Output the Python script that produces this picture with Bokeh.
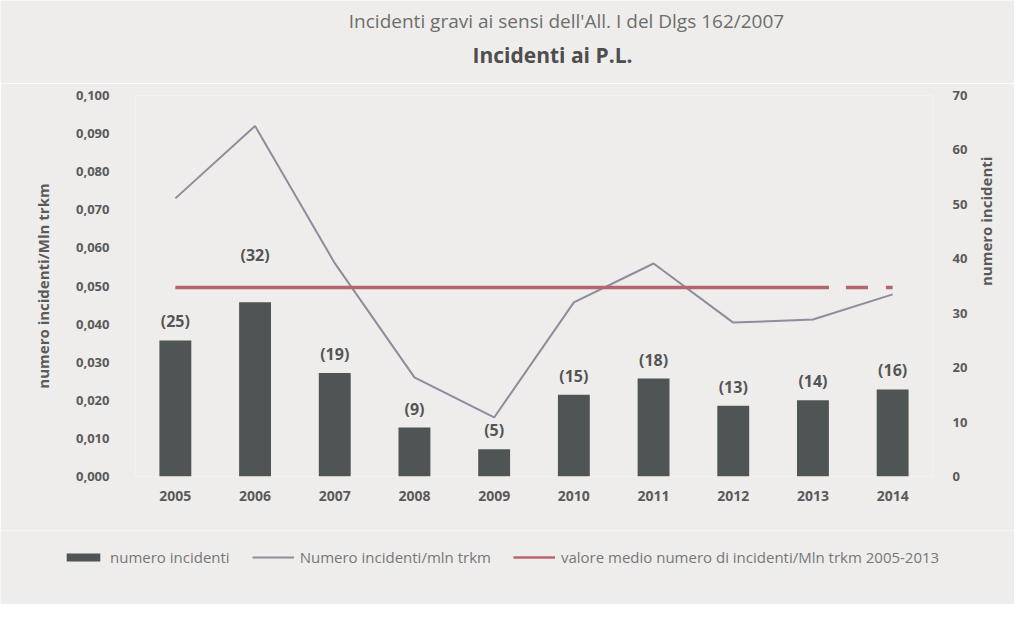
import math
from bokeh.plotting import figure
from bokeh.layouts import column
from bokeh.models import (Range1d, LinearAxis, FixedTicker, CustomJSTickFormatter,
                          Legend, LegendItem, Label, ColumnDataSource, FactorRange,
                          CDSView, IndexFilter)
from bokeh.core.properties import value
from bokeh.embed import file_html
from bokeh.resources import INLINE

# ---- data ----
years = ["2005", "2006", "2007", "2008", "2009", "2010", "2011", "2012", "2013", "2014"]
incidents = [25, 32, 19, 9, 5, 15, 18, 13, 14, 16]
rate = [0.073, 0.092, 0.056, 0.026, 0.0155, 0.0457, 0.0559, 0.0404, 0.0412, 0.0478]
mean_rate = 0.0496
left_ticks = [0.0, 0.01, 0.02, 0.03, 0.04, 0.05, 0.06, 0.07, 0.08, 0.09, 0.1]
left_tick_labels = ["0,000", "0,010", "0,020", "0,030", "0,040", "0,050",
                    "0,060", "0,070", "0,080", "0,090", "0,100"]
right_ticks = [0, 10, 20, 30, 40, 50, 60, 70]
title_1 = "Incidenti gravi ai sensi dell'All. I del Dlgs 162/2007"
title_2 = "Incidenti ai P.L."
left_label = "numero incidenti/Mln trkm"
right_label = "numero incidenti"
legend_labels = ["numero incidenti", "Numero incidenti/mln trkm",
                 "valore medio numero di incidenti/Mln trkm 2005-2013"]

FONT = "Open Sans"
BG = "#eeedeb"
TXT = "#5a5a5a"
BAR_C = "#4f5454"
LINE_C = "#8f8c9b"
MEAN_C = "#b8646e"
W = 1014
FRAME_L = 135
TOP_H = 83


def bare(fig):
    fig.background_fill_color = BG
    fig.border_fill_color = BG
    fig.outline_line_color = None
    fig.grid.grid_line_color = None


def free_frame(fig):
    # let this strip use its whole canvas as frame (no alignment with the chart)
    try:
        fig.frame_align = False
        return 0
    except AttributeError:
        fig.min_border_left = FRAME_L
        fig.min_border_right = 82
        return FRAME_L


src = ColumnDataSource(dict(year=years, count=incidents, rate=rate,
                            lab=["(%d)" % c for c in incidents]))
n_solid = len(years) - 1

# ---------- title strip ----------
tf = figure(width=W, height=TOP_H, x_range=Range1d(0, 1), y_range=Range1d(0, 1),
            x_axis_type=None, y_axis_type=None, output_backend="svg",
            toolbar_location=None, min_border=0)
bare(tf)
dx = free_frame(tf)
tf.add_layout(Label(x=566 - dx, y=TOP_H - 20, x_units="screen", y_units="screen",
                    text=title_1, text_align="center", text_baseline="middle",
                    text_font=FONT, text_font_size="19px", text_color="#6d6d6d"))
tf.add_layout(Label(x=552 - dx, y=TOP_H - 54, x_units="screen", y_units="screen",
                    text=title_2, text_align="center", text_baseline="middle",
                    text_font=FONT, text_font_style="bold", text_font_size="21px",
                    text_color="#4e4e4e"))

# ---------- main chart ----------
p = figure(width=W, height=447, x_range=FactorRange(*years), y_range=Range1d(0, 0.1),
           output_backend="svg", toolbar_location=None,
           min_border_left=FRAME_L, min_border_right=82, min_border_top=12, min_border_bottom=54)
p.extra_y_ranges = {"count": Range1d(0, 70)}
bare(p)

p.vbar(x="year", top="count", width=0.4, source=src, y_range_name="count",
       fill_color=BAR_C, line_color=None)

others = [i for i in range(len(years)) if i != 1]
txt_kw = dict(x="year", y="count", text="lab", source=src, y_range_name="count",
              text_align="center", text_baseline="bottom",
              text_font=value(FONT), text_font_style="bold", text_font_size="16px",
              text_color="#555555")
p.text(view=CDSView(filter=IndexFilter(others)), y_offset=-8, **txt_kw)
p.text(view=CDSView(filter=IndexFilter([1])), y_offset=-36, **txt_kw)

p.line(x="year", y="rate", source=src, line_color=LINE_C, line_width=2)
p.line(x=years[:n_solid], y=[mean_rate] * n_solid, line_color=MEAN_C, line_width=3.5)
p.line(x=years[n_solid - 1:], y=[mean_rate] * 2, line_color=MEAN_C, line_width=3.5,
       line_dash="16 17 22 18")

p.yaxis.ticker = FixedTicker(ticks=left_ticks)
p.yaxis.formatter = CustomJSTickFormatter(
    args=dict(vals=left_ticks, labels=left_tick_labels),
    code="const i = vals.findIndex(t => Math.abs(t - tick) < 1e-9);"
         "return i >= 0 ? labels[i] : tick.toFixed(3).replace('.', ',');")
p.yaxis.axis_label = left_label
p.yaxis.major_label_standoff = 26
p.yaxis.axis_label_standoff = 20

raxis = LinearAxis(y_range_name="count", ticker=FixedTicker(ticks=right_ticks),
                   axis_label=right_label)
p.add_layout(raxis, "right")
raxis.major_label_standoff = 20
raxis.axis_label_standoff = 16
raxis.axis_label_orientation = math.pi / 2

p.xaxis.major_label_standoff = 14

for ax in [p.xaxis[0], p.yaxis[0], raxis]:
    ax.axis_line_color = None
    ax.major_tick_line_color = None
    ax.minor_tick_line_color = None
    ax.major_tick_out = 0
    ax.major_label_text_font = FONT
    ax.major_label_text_font_style = "bold"
    ax.major_label_text_color = TXT
    ax.major_label_text_font_size = "13px"
    ax.axis_label_text_font = FONT
    ax.axis_label_text_font_style = "bold"
    ax.axis_label_text_color = TXT
    ax.axis_label_text_font_size = "15px"
p.xaxis.major_label_text_font_size = "14px"
raxis.axis_label_text_align = "center"
raxis.axis_label_text_baseline = "middle"

# ---------- legend strip (same series, drawn outside its visible range) ----------
lf = figure(width=W, height=74, x_range=p.x_range, y_range=Range1d(1000, 1001),
            x_axis_type=None, y_axis_type=None, output_backend="svg",
            toolbar_location=None, min_border=0)
bare(lf)
ldx = free_frame(lf)
lb = lf.vbar(x="year", top="count", width=0.4, source=src, fill_color=BAR_C, line_color=None)
ll = lf.line(x="year", y="rate", source=src, line_color=LINE_C, line_width=2)
lm = lf.line(x=years[:n_solid], y=[mean_rate] * n_solid, line_color=MEAN_C, line_width=2.5)

legend = Legend(items=[LegendItem(label=legend_labels[0], renderers=[lb]),
                       LegendItem(label=legend_labels[1], renderers=[ll]),
                       LegendItem(label=legend_labels[2], renderers=[lm])],
                location=(62 - ldx, 37), orientation="horizontal", padding=0, margin=0,
                spacing=22, glyph_width=42, glyph_height=10, label_height=14,
                label_standoff=6, border_line_color=None, background_fill_alpha=0,
                label_text_font=FONT, label_text_font_size="15px",
                label_text_color="#777777")
lf.add_layout(legend, "center")

layout = column(tf, p, lf, spacing=0)
open("out.html", "w").write(file_html(layout, INLINE))
